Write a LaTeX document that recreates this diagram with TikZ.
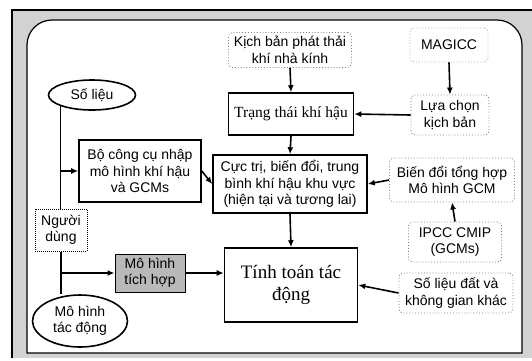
\documentclass[tikz,border=0pt]{standalone}
\usepackage{fontspec}
\setmainfont{Liberation Serif}
\setsansfont{Liberation Sans}
\usetikzlibrary{arrows.meta,shapes.geometric}

\begin{document}
\begin{tikzpicture}[x=1pt,y=-1pt,
    every node/.style={align=center,font=\sffamily\fontsize{14}{16.5}\selectfont,inner sep=0pt},
    box/.style={draw,line width=1.6pt},
    outbox/.style={draw=gray,dotted,line width=0.9pt,rounded corners=4pt},
    oval/.style={draw,ellipse,line width=1.6pt},
    arr/.style={-{Latex[length=7pt,width=6pt]},line width=1.6pt}]
            \useasboundingbox (0,0) rectangle (532,360);
            % frame
            \fill[gray!35] (12,10) rectangle (532,358);
            \draw[line width=1.2pt] (12,358) -- (12,10) -- (532,10);
            \draw[line width=1.2pt,fill=white] (27,353) -- (27,45) arc (180:270:25) -- (497,20)
                arc (270:360:25) -- (522,353) -- cycle;
            % nodes
            \node[outbox,minimum width=123,minimum height=35] (kich) at (290,50) {Kịch bản phát thải\\khí nhà kính};
            \node[outbox,draw=gray!60,minimum width=78,minimum height=34] (magicc) at (449,45) {MAGICC};
            \node[box,minimum width=125,minimum height=42,font=\rmfamily\fontsize{15.5}{18}\selectfont] (trang) at (291,114) {Trạng thái khí hậu};
            \node[outbox,minimum width=78,minimum height=40] (luachon) at (450,115) {Lựa chọn\\kịch bản};
            \node[oval,minimum width=87,minimum height=30] (solieu) at (92,95) {Số liệu};
            \node[box,minimum width=122,minimum height=62] (bocongcu) at (140,171) {Bộ công cụ nhập\\mô hình khí hậu\\và GCMs};
            \node[box,minimum width=154,minimum height=58] (cuctri) at (290,184) {Cực trị, biến đổi, trung\\bình khí hậu khu vực\\(hiện tại và tương lai)};
            \node[outbox,minimum width=125,minimum height=44] (biendoi) at (452,180) {Biến đổi tổng hợp\\Mô hình GCM};
            \node[outbox,minimum width=93,minimum height=40] (ipcc) at (455,242) {IPCC CMIP\\(GCMs)};
            \node[draw,densely dotted,line width=1pt,minimum width=52,minimum height=42] (nguoi) at (61,230) {Người\\dùng};
            \node[box,line width=1pt,fill=gray!55,minimum width=70,minimum height=38] (tichhop) at (150,273) {Mô hình\\tích hợp};
            \node[box,minimum width=133,minimum height=74,font=\rmfamily\fontsize{19}{22}\selectfont] (tinh) at (291,285) {Tính toán tác\\động};
            \node[oval,minimum width=95,minimum height=52] (tacdong) at (80,321) {Mô hình\\tác động};
            \node[outbox,minimum width=114,minimum height=40] (solieudat) at (456,293) {Số liệu đất và\\không gian khác};
            % connectors
            \coordinate (j1) at (solieu.south west |- bocongcu.west);
            \coordinate (j2) at (nguoi.south |- tichhop.west);
            \draw[line width=1.6pt] (solieu.south west) -- (solieu.south west |- nguoi.north);
            \draw[line width=1.6pt] (nguoi.south) -- (nguoi.south |- tacdong.north);
            \draw[arr] (j1) -- (bocongcu.west);
            \draw[arr] (j2) -- (tichhop.west);
            \draw[arr] (tichhop.east) -- (tichhop.east -| tinh.west);
            \draw[arr] (bocongcu.east) -- (cuctri.west);
            \draw[arr] (kich.south) -- (trang.north);
            \draw[arr] (magicc.south) -- (luachon.north);
            \draw[arr] (luachon.west) -- (trang.east);
            \draw[arr] (trang.south) -- (cuctri.north);
            \draw[arr] (biendoi.west) -- (cuctri.east);
            \draw[arr] (ipcc.north) -- (biendoi.south);
            \draw[arr] (cuctri.south) -- (tinh.north);
            \draw[arr] (solieudat.west) -- (tinh.east);
        \end{tikzpicture}
\end{document}
